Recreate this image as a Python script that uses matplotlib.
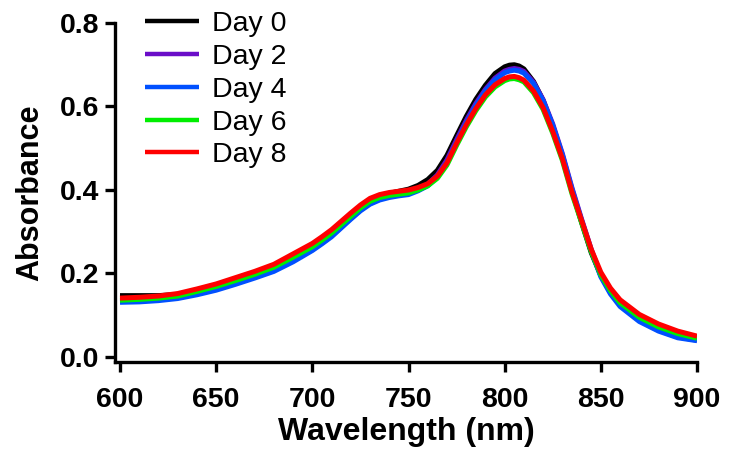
import matplotlib
matplotlib.use('Agg')
import matplotlib.pyplot as plt

plt.rcParams['font.family'] = ['Liberation Sans', 'DejaVu Sans']

# wavelength grid (nm)
wavelength = [600, 610, 620, 630, 640, 650, 660, 670, 680, 690, 700,
              705, 710, 715, 720, 725, 730, 735, 740, 745, 750, 755, 760,
              765, 770, 775, 780, 785, 790, 795, 800,
              802.5, 805, 807.5, 810,
              815, 820, 825, 830, 835, 840, 845, 850, 855, 860,
              870, 880, 890, 900]

day0 = [0.147, 0.147, 0.147, 0.150, 0.159, 0.171, 0.186, 0.201, 0.218, 0.243, 0.268,
        0.284, 0.301, 0.321, 0.341, 0.360, 0.376, 0.386, 0.392, 0.397, 0.402, 0.411, 0.425,
        0.447, 0.483, 0.530, 0.576, 0.617, 0.651, 0.679, 0.695,
        0.699, 0.700, 0.697, 0.690,
        0.660, 0.615, 0.553, 0.481, 0.398, 0.322, 0.250, 0.195, 0.157, 0.130,
        0.093, 0.070, 0.054, 0.043]
day2 = [0.134, 0.135, 0.138, 0.143, 0.152, 0.163, 0.177, 0.192, 0.208, 0.231, 0.257,
        0.273, 0.290, 0.311, 0.332, 0.352, 0.368, 0.378, 0.384, 0.388, 0.392, 0.401, 0.414,
        0.436, 0.472, 0.520, 0.566, 0.607, 0.641, 0.668, 0.685,
        0.689, 0.691, 0.689, 0.684,
        0.658, 0.616, 0.558, 0.487, 0.405, 0.330, 0.258, 0.196, 0.155, 0.125,
        0.088, 0.064, 0.048, 0.040]
day4 = [0.131, 0.132, 0.135, 0.140, 0.149, 0.160, 0.174, 0.189, 0.205, 0.228, 0.255,
        0.271, 0.288, 0.309, 0.330, 0.350, 0.366, 0.376, 0.382, 0.386, 0.389, 0.398, 0.410,
        0.431, 0.466, 0.514, 0.560, 0.602, 0.637, 0.664, 0.681,
        0.685, 0.687, 0.685, 0.680,
        0.655, 0.613, 0.555, 0.484, 0.402, 0.327, 0.255, 0.192, 0.151, 0.121,
        0.085, 0.062, 0.046, 0.039]
day6 = [0.136, 0.138, 0.141, 0.146, 0.157, 0.169, 0.183, 0.198, 0.215, 0.239, 0.264,
        0.280, 0.297, 0.317, 0.337, 0.357, 0.373, 0.382, 0.387, 0.390, 0.393, 0.400, 0.410,
        0.428, 0.460, 0.507, 0.551, 0.590, 0.623, 0.647, 0.662,
        0.666, 0.667, 0.664, 0.659,
        0.633, 0.593, 0.536, 0.471, 0.391, 0.322, 0.253, 0.197, 0.159, 0.130,
        0.095, 0.072, 0.056, 0.045]
day8 = [0.141, 0.143, 0.146, 0.152, 0.163, 0.175, 0.190, 0.205, 0.222, 0.247, 0.272,
        0.288, 0.305, 0.325, 0.345, 0.364, 0.380, 0.389, 0.394, 0.397, 0.400, 0.406, 0.415,
        0.433, 0.465, 0.512, 0.556, 0.595, 0.628, 0.652, 0.667,
        0.671, 0.672, 0.669, 0.663,
        0.637, 0.597, 0.540, 0.475, 0.395, 0.327, 0.258, 0.203, 0.165, 0.137,
        0.102, 0.079, 0.062, 0.050]

labels = ['Day 0', 'Day 2', 'Day 4', 'Day 6', 'Day 8']
colors = ['#000000', '#6a0dc8', '#0050ff', '#00ee00', '#ff0000']
series = [day0, day2, day4, day6, day8]

fig = plt.figure(figsize=(7.31, 4.55), dpi=100)
ax = fig.add_axes([115 / 731, 1 - 362 / 455, (697 - 115) / 731, (362 - 23) / 455])

for y, lab, c in zip(series, labels, colors):
    ax.plot(wavelength, y, color=c, lw=3.6, label=lab,
            solid_capstyle='butt', solid_joinstyle='round')

ax.set_xlim(597.4, 900)
ax.set_ylim(-0.012, 0.8)
ax.set_xticks([600, 650, 700, 750, 800, 850, 900])
ax.set_yticks([0.0, 0.2, 0.4, 0.6, 0.8])
ax.yaxis.set_major_formatter(matplotlib.ticker.FormatStrFormatter('%.1f'))

for s in ['top', 'right']:
    ax.spines[s].set_visible(False)
for s in ['left', 'bottom']:
    ax.spines[s].set_linewidth(2.4)
    ax.spines[s].set_capstyle('projecting')

ax.tick_params(direction='out', length=7, width=2.4, labelsize=20.5, pad=4)
ax.tick_params(axis='x', pad=11)
for t in ax.get_xticklabels() + ax.get_yticklabels():
    t.set_fontweight('bold')

ax.set_xlabel('Wavelength (nm)', fontsize=23, fontweight='bold', labelpad=3)
ax.set_ylabel('Absorbance', fontsize=22, fontweight='bold', labelpad=11)

leg = ax.legend(loc='upper left', bbox_to_anchor=(145 / 731, 1 - 11 / 455),
                bbox_transform=fig.transFigure, frameon=False, fontsize=20.5,
                handlelength=1.9, handletextpad=0.45, labelspacing=0.24,
                borderpad=0, borderaxespad=0)
for line in leg.get_lines():
    line.set_linewidth(3.2)

fig.savefig('out.png', dpi=100, facecolor='white')
